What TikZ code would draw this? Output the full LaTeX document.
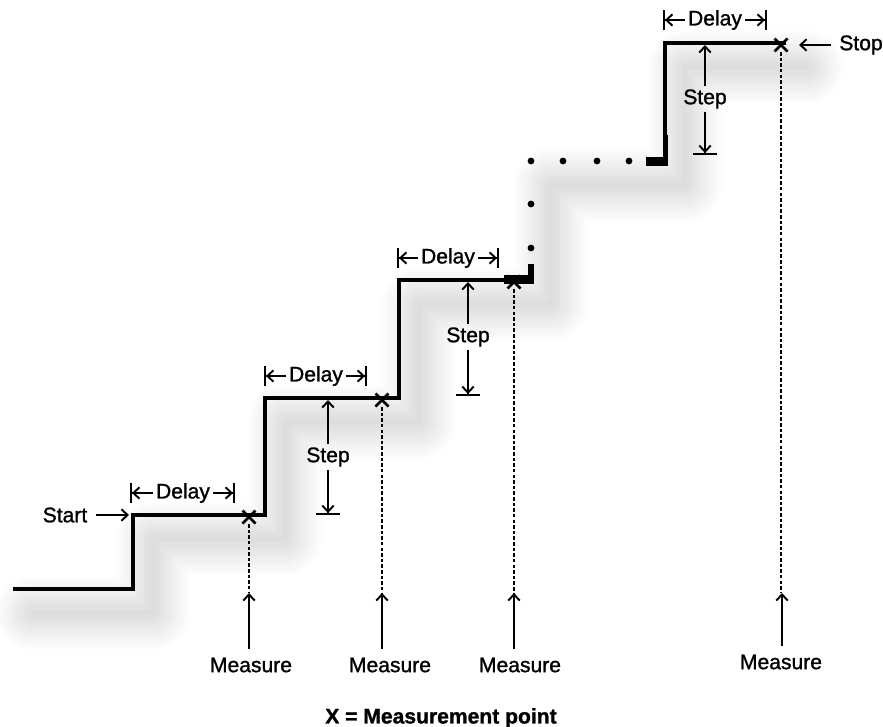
\documentclass[tikz,border=0pt]{standalone}
\usepackage{fontspec}
\setmainfont{Liberation Sans}
\newfontfamily\labelfont{Liberation Sans}[BoldFont={Liberation Sans},BoldFeatures={FakeBold=1.2}]
\newfontfamily\legendfont{Liberation Sans Bold}[BoldFont={Liberation Sans Bold},BoldFeatures={FakeBold=1.2}]
\usetikzlibrary{arrows.meta}

\begin{document}
\begin{tikzpicture}[x=0.02cm,y=-0.02cm,>={Straight Barb[length=3.5pt,width=6.5pt]},
  every node/.style={font=\labelfont\bfseries\fontsize{12}{14}\selectfont,inner sep=1.5pt},
  stair/.style={line width=2pt,line join=miter},
  dimline/.style={line width=1.1pt},
  barend/.style={-{Straight Barb[length=3.5pt,width=6.5pt]Bar[width=11.5pt]}},
  stepend/.style={-{Straight Barb[length=3.5pt,width=6.5pt]Bar[width=13.6pt]}},
  guide/.style={line width=0.8pt,dash pattern=on 2pt off 1.2pt},
  xmark/.style={line width=1.6pt}]
  \definecolor{shadowgray}{RGB}{60,60,60}
  \useasboundingbox (0,0) rectangle (883,727);
  % soft shadow
  \foreach \w in {4,9,...,74}
    \draw[shadowgray,opacity=0.012,line width=\w*0.567pt,line join=round,line cap=round,
      shift={(20,24)}]
      (13,589) -- (133,589) -- (133,515) -- (265,515) -- (265,398) -- (399,398)
      -- (399,280) -- (531,280) -- (531,161) -- (665,161) -- (665,43) -- (786,43);
  % staircase
  \draw[stair] (13,589) -- (133,589) -- (133,515) -- (265,515) -- (265,398)
    -- (399,398) -- (399,280) -- (506,280);
  \fill (504,275) rectangle (534,284);
  \fill (528,264) rectangle (534,284);
  \draw[stair] (665,136) -- (665,43) -- (786,43);
  \fill (646,157) rectangle (668,166);
  \fill (663,135) rectangle (668,166);
  \foreach \p in {(531,248),(531,204),(531,161),(563,161),(597,161),(629,161)}
    \fill \p circle (3.4);
  % measurement points
  \coordinate (x1) at (249,517);
  \coordinate (x2) at (382,400);
  \coordinate (x3) at (514,282);
  \coordinate (x4) at (781,45);
  \foreach \c in {x1,x2,x3,x4}
    \draw[xmark] (\c) +(-6.5,-6.5) -- +(6.5,6.5) (\c) +(-6.5,6.5) -- +(6.5,-6.5);
  \node (meas1) at (251,665) {Measure};
  \node (meas2) at (390,665) {Measure};
  \node (meas3) at (520,665) {Measure};
  \node (meas4) at (781,662) {Measure};
  \coordinate (m1) at (249,593);
  \coordinate (m2) at (382,593);
  \coordinate (m3) at (514,593);
  \coordinate (m4) at (782,593);
  \draw[dimline,->,shorten <=3pt] (meas1.north -| m1) -- (m1);
  \draw[dimline,->,shorten <=3pt] (meas2.north -| m2) -- (m2);
  \draw[dimline,->,shorten <=3pt] (meas3.north -| m3) -- (m3);
  \draw[dimline,->,shorten <=3pt] (meas4.north -| m4) -- (m4);
  \draw[guide] ([yshift=-4pt]x1) -- (m1);
  \draw[guide] ([yshift=-4pt]x2) -- (m2);
  \draw[guide] ([yshift=-4pt]x3) -- (m3);
  \draw[guide] ([yshift=-4pt]x4) -- (m4 -| x4);
  % start and stop
  \node (start) at (65,515) {Start};
  \coordinate (startpt) at (129,515);
  \draw[dimline,->,shorten <=3pt] (start.east) -- (startpt);
  \node (stop) at (861,45) {Stop};
  \coordinate (stoppt) at (799,45);
  \draw[dimline,->,shorten <=3pt] (stop.west) -- (stoppt);
  % delays
  \node (delay1) at (183,493) {Delay};
  \coordinate (d1l) at (130,493);
  \coordinate (d1r) at (235,493);
  \draw[dimline,barend] (delay1.west) -- (d1l);
  \draw[dimline,barend] (delay1.east) -- (d1r);
  \node (delay2) at (316,376) {Delay};
  \coordinate (d2l) at (264,376);
  \coordinate (d2r) at (367,376);
  \draw[dimline,barend] (delay2.west) -- (d2l);
  \draw[dimline,barend] (delay2.east) -- (d2r);
  \node (delay3) at (448,258) {Delay};
  \coordinate (d3l) at (397,258);
  \coordinate (d3r) at (499,258);
  \draw[dimline,barend] (delay3.west) -- (d3l);
  \draw[dimline,barend] (delay3.east) -- (d3r);
  \node (delay4) at (715,20) {Delay};
  \coordinate (d4l) at (663,20);
  \coordinate (d4r) at (767,20);
  \draw[dimline,barend] (delay4.west) -- (d4l);
  \draw[dimline,barend] (delay4.east) -- (d4r);
  % steps
  \node (step1) at (328,457) {Step};
  \coordinate (s1t) at (328,400);
  \coordinate (s1b) at (328,515);
  \draw[dimline,->] (step1) -- (s1t);
  \draw[dimline,stepend] (step1) -- (s1b);
  \node (step2) at (468,337) {Step};
  \coordinate (s2t) at (468,282);
  \coordinate (s2b) at (468,396);
  \draw[dimline,->] (step2) -- (s2t);
  \draw[dimline,stepend] (step2) -- (s2b);
  \node (step3) at (705,99) {Step};
  \coordinate (s3t) at (705,45);
  \coordinate (s3b) at (705,155);
  \draw[dimline,->] (step3) -- (s3t);
  \draw[dimline,stepend] (step3) -- (s3b);
  \node[font=\legendfont\bfseries\fontsize{12}{14}\selectfont] (legend) at (441,718)
    {X = Measurement point};
\end{tikzpicture}
\end{document}
